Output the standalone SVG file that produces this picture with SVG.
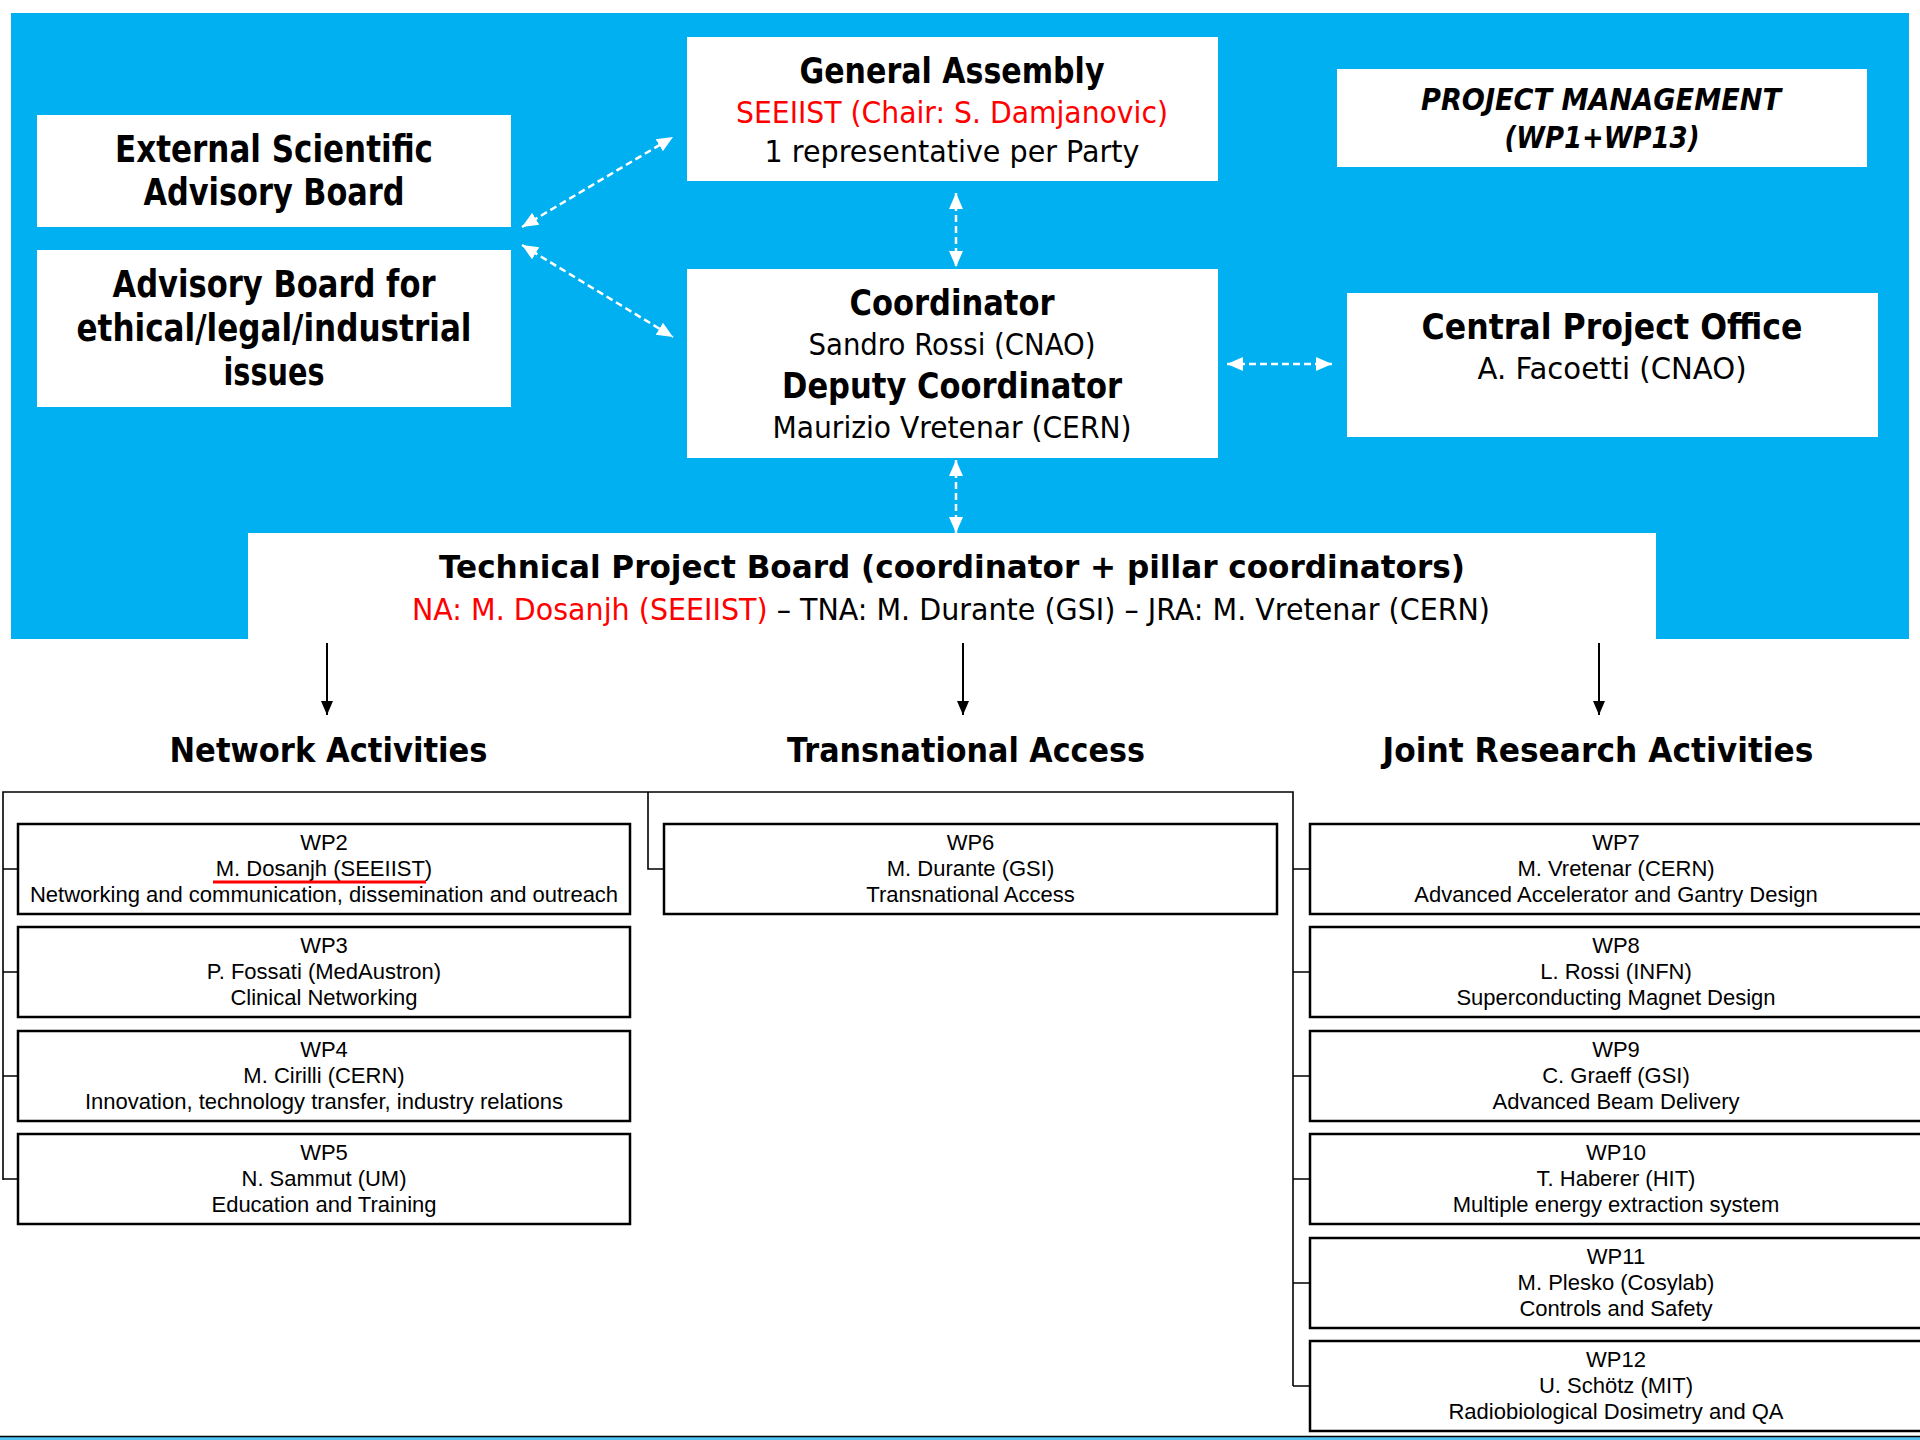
<svg xmlns="http://www.w3.org/2000/svg" width="1920" height="1440" viewBox="0 0 1920 1440">
<style>
.hb{fill:#fff}
.t{font-family:"DejaVu Sans",Tahoma,sans-serif;text-anchor:middle;fill:#000}
.b{font-weight:bold}
.red{fill:#ff0000}
.wp{font-family:"Liberation Sans",Arial,sans-serif;font-size:22px;text-anchor:middle;fill:#000}
.box{fill:#fff;stroke:#000;stroke-width:2.5}
.dash{stroke:#fff;stroke-width:2.5;stroke-dasharray:7 4;fill:none}
.ln{stroke:#000;stroke-width:1.6;fill:none}
</style>
<defs>
<marker id="wh" markerUnits="userSpaceOnUse" markerWidth="16" markerHeight="16" viewBox="0 0 16 16" refX="16" refY="8" orient="auto-start-reverse"><path d="M0,1 L16,8 L0,15 z" fill="#fff"/></marker>
<marker id="bk" markerUnits="userSpaceOnUse" markerWidth="14" markerHeight="14" viewBox="0 0 14 14" refX="14" refY="7" orient="auto"><path d="M0,1 L14,7 L0,13 z" fill="#000"/></marker>
</defs>
<rect x="0" y="0" width="1920" height="1440" fill="#fff"/>
<rect x="11" y="13" width="1898" height="626" fill="#00b0f0"/>

<g id="esab">
<rect class="hb" x="37" y="115" width="474" height="112"/>
<text class="t b" x="274" y="162" font-size="37" textLength="318" lengthAdjust="spacingAndGlyphs">External Scientific</text>
<text class="t b" x="274" y="205" font-size="37" textLength="261" lengthAdjust="spacingAndGlyphs">Advisory Board</text>
</g>
<g id="abelii">
<rect class="hb" x="37" y="250" width="474" height="157"/>
<text class="t b" x="274" y="297" font-size="37" textLength="323" lengthAdjust="spacingAndGlyphs">Advisory Board for</text>
<text class="t b" x="274" y="341" font-size="37" textLength="395" lengthAdjust="spacingAndGlyphs">ethical/legal/industrial</text>
<text class="t b" x="274" y="385" font-size="37" textLength="101" lengthAdjust="spacingAndGlyphs">issues</text>
</g>
<g id="ga">
<rect class="hb" x="687" y="37" width="531" height="144"/>
<text class="t b" x="952" y="83" font-size="36" textLength="305" lengthAdjust="spacingAndGlyphs">General Assembly</text>
<text class="t red" x="952" y="123" font-size="31" textLength="432" lengthAdjust="spacingAndGlyphs">SEEIIST (Chair: S. Damjanovic)</text>
<text class="t" x="952" y="162" font-size="30" textLength="375" lengthAdjust="spacingAndGlyphs">1 representative per Party</text>
</g>
<g id="coord">
<rect class="hb" x="687" y="269" width="531" height="189"/>
<text class="t b" x="952" y="315" font-size="36" textLength="205" lengthAdjust="spacingAndGlyphs">Coordinator</text>
<text class="t" x="952" y="355" font-size="30" textLength="287" lengthAdjust="spacingAndGlyphs">Sandro Rossi (CNAO)</text>
<text class="t b" x="952" y="398" font-size="35" textLength="340" lengthAdjust="spacingAndGlyphs">Deputy Coordinator</text>
<text class="t" x="952" y="438" font-size="30" textLength="359" lengthAdjust="spacingAndGlyphs">Maurizio Vretenar (CERN)</text>
</g>
<g id="pm">
<rect class="hb" x="1337" y="69" width="530" height="98"/>
<text class="t b" x="1601" y="110" font-size="30" font-style="italic" textLength="360" lengthAdjust="spacingAndGlyphs">PROJECT MANAGEMENT</text>
<text class="t b" x="1602" y="148" font-size="30" font-style="italic" textLength="195" lengthAdjust="spacingAndGlyphs">(WP1+WP13)</text>
</g>
<g id="cpo">
<rect class="hb" x="1347" y="293" width="531" height="144"/>
<text class="t b" x="1612" y="339" font-size="36" textLength="381" lengthAdjust="spacingAndGlyphs">Central Project Office</text>
<text class="t" x="1612" y="379" font-size="31" textLength="269" lengthAdjust="spacingAndGlyphs">A. Facoetti (CNAO)</text>
</g>
<g id="tpb">
<rect class="hb" x="248" y="533" width="1408" height="106"/>
<text class="t b" x="952" y="578" font-size="32" textLength="1026" lengthAdjust="spacingAndGlyphs">Technical Project Board (coordinator + pillar coordinators)</text>
<text class="t" x="951" y="620" font-size="30" textLength="1078" lengthAdjust="spacingAndGlyphs"><tspan class="red">NA: M. Dosanjh (SEEIIST)</tspan> – TNA: M. Durante (GSI) – JRA: M. Vretenar (CERN)</text>
</g>

<g id="title-na"><text class="t b" x="328.5" y="762" font-size="34" textLength="318" lengthAdjust="spacingAndGlyphs">Network Activities</text></g>
<g id="title-ta"><text class="t b" x="966" y="762" font-size="34" textLength="358" lengthAdjust="spacingAndGlyphs">Transnational Access</text></g>
<g id="title-jra"><text class="t b" x="1598" y="762" font-size="34" textLength="431" lengthAdjust="spacingAndGlyphs">Joint Research Activities</text></g>

<g id="connectors">
<line class="dash" x1="522" y1="227" x2="673" y2="137" marker-start="url(#wh)" marker-end="url(#wh)"/>
<line class="dash" x1="522" y1="245" x2="673" y2="337" marker-start="url(#wh)" marker-end="url(#wh)"/>
<line class="dash" x1="956" y1="193" x2="956" y2="267" marker-start="url(#wh)" marker-end="url(#wh)"/>
<line class="dash" x1="1227" y1="364" x2="1332" y2="364" marker-start="url(#wh)" marker-end="url(#wh)"/>
<line class="dash" x1="956" y1="460" x2="956" y2="533" marker-start="url(#wh)" marker-end="url(#wh)"/>
<line x1="327" y1="643" x2="327" y2="715" stroke="#000" stroke-width="2" marker-end="url(#bk)"/>
<line x1="963" y1="643" x2="963" y2="715" stroke="#000" stroke-width="2" marker-end="url(#bk)"/>
<line x1="1599" y1="643" x2="1599" y2="715" stroke="#000" stroke-width="2" marker-end="url(#bk)"/>
<path class="ln" d="M3,1180 V792 H1293 V1386 M3,869 H18 M3,972 H18 M3,1076 H18 M3,1179 H18 M648,792 V869 H664 M1293,869 H1310 M1293,972 H1310 M1293,1076 H1310 M1293,1179 H1310 M1293,1283 H1310 M1293,1386 H1310"/>
</g>

<g id="wp2"><rect class="box" x="18" y="824" width="612" height="90"/>
<text class="wp" x="324" y="850">WP2</text><text class="wp" x="324" y="876">M. Dosanjh (SEEIIST)</text><text class="wp" x="324" y="902">Networking and communication, dissemination and outreach</text>
<line x1="213" y1="882" x2="426" y2="882" stroke="#ff0000" stroke-width="3"/></g>
<g id="wp3"><rect class="box" x="18" y="927" width="612" height="90"/>
<text class="wp" x="324" y="953">WP3</text><text class="wp" x="324" y="979">P. Fossati (MedAustron)</text><text class="wp" x="324" y="1005">Clinical Networking</text></g>
<g id="wp4"><rect class="box" x="18" y="1031" width="612" height="90"/>
<text class="wp" x="324" y="1057">WP4</text><text class="wp" x="324" y="1083">M. Cirilli (CERN)</text><text class="wp" x="324" y="1109">Innovation, technology transfer, industry relations</text></g>
<g id="wp5"><rect class="box" x="18" y="1134" width="612" height="90"/>
<text class="wp" x="324" y="1160">WP5</text><text class="wp" x="324" y="1186">N. Sammut (UM)</text><text class="wp" x="324" y="1212">Education and Training</text></g>
<g id="wp6"><rect class="box" x="664" y="824" width="613" height="90"/>
<text class="wp" x="970.5" y="850">WP6</text><text class="wp" x="970.5" y="876">M. Durante (GSI)</text><text class="wp" x="970.5" y="902">Transnational Access</text></g>
<g id="wp7"><rect class="box" x="1310" y="824" width="620" height="90"/>
<text class="wp" x="1616" y="850">WP7</text><text class="wp" x="1616" y="876">M. Vretenar (CERN)</text><text class="wp" x="1616" y="902">Advanced Accelerator and Gantry Design</text></g>
<g id="wp8"><rect class="box" x="1310" y="927" width="620" height="90"/>
<text class="wp" x="1616" y="953">WP8</text><text class="wp" x="1616" y="979">L. Rossi (INFN)</text><text class="wp" x="1616" y="1005">Superconducting Magnet Design</text></g>
<g id="wp9"><rect class="box" x="1310" y="1031" width="620" height="90"/>
<text class="wp" x="1616" y="1057">WP9</text><text class="wp" x="1616" y="1083">C. Graeff (GSI)</text><text class="wp" x="1616" y="1109">Advanced Beam Delivery</text></g>
<g id="wp10"><rect class="box" x="1310" y="1134" width="620" height="90"/>
<text class="wp" x="1616" y="1160">WP10</text><text class="wp" x="1616" y="1186">T. Haberer (HIT)</text><text class="wp" x="1616" y="1212">Multiple energy extraction system</text></g>
<g id="wp11"><rect class="box" x="1310" y="1238" width="620" height="90"/>
<text class="wp" x="1616" y="1264">WP11</text><text class="wp" x="1616" y="1290">M. Plesko (Cosylab)</text><text class="wp" x="1616" y="1316">Controls and Safety</text></g>
<g id="wp12"><rect class="box" x="1310" y="1341" width="620" height="90"/>
<text class="wp" x="1616" y="1367">WP12</text><text class="wp" x="1616" y="1393">U. Schötz (MIT)</text><text class="wp" x="1616" y="1419">Radiobiological Dosimetry and QA</text></g>

<rect x="0" y="1437" width="1920" height="3" fill="#4fc3f0"/>
<line x1="0" y1="1436.5" x2="1920" y2="1436.5" stroke="#000" stroke-width="1.5"/>
</svg>
